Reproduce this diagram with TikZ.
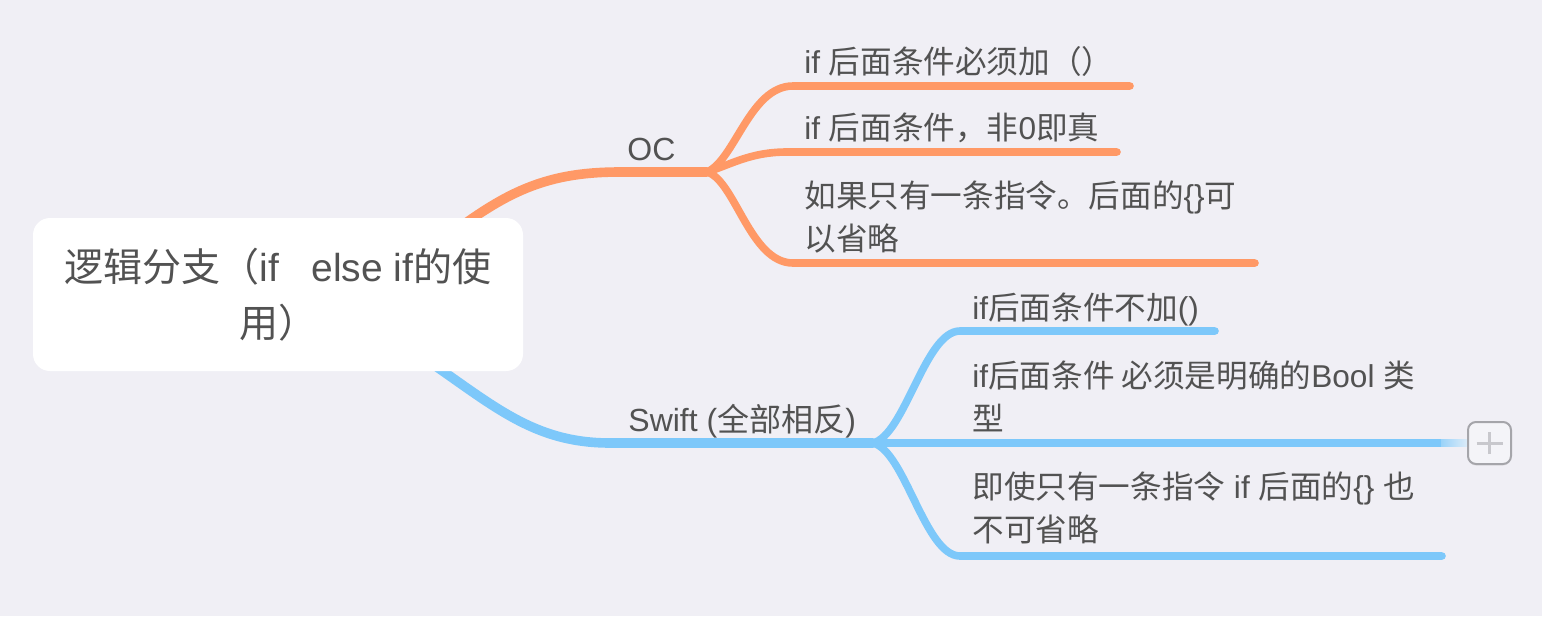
\documentclass[tikz,border=0pt]{standalone}
\usepackage{fontspec}
\setmainfont{Liberation Sans}
\newfontfamily\cjk{Noto Sans CJK SC}
\newcommand\zh[1]{{\cjk #1}}
\usetikzlibrary{shadows}
\definecolor{bg}{RGB}{240,239,245}
\definecolor{orng}{RGB}{255,153,102}
\definecolor{skyb}{RGB}{125,200,250}
\definecolor{skyfade}{RGB}{222,236,248}
\definecolor{txt}{RGB}{82,82,82}
\definecolor{plusborder}{RGB}{165,165,170}
\definecolor{plusfill}{RGB}{244,244,248}
\definecolor{pluscross}{RGB}{200,200,205}
\begin{document}
\begin{tikzpicture}[x=0.5pt,y=-0.5pt,
  leaf/.style={anchor=base west,inner sep=0pt,align=left,text=txt,font=\fontsize{15.8}{21.5}\selectfont},
  midtext/.style={anchor=base west,inner sep=0pt,text=txt,font=\fontsize{16}{20}\selectfont},
  rootbox/.style={rounded corners=8.5pt,fill=white,minimum width=245pt,minimum height=76.5pt,
    align=center,inner sep=0pt,text=txt,font=\fontsize{19.5}{28}\selectfont},
  obranch/.style={draw=orng,line width=4.8pt,line cap=round},
  oleaf/.style={draw=orng,line width=3.8pt,line cap=round},
  bbranch/.style={draw=skyb,line width=4.8pt,line cap=round},
  bleaf/.style={draw=skyb,line width=3.8pt,line cap=round},
  plusbtn/.style={draw=plusborder,line width=1pt,fill=plusfill,rounded corners=4pt,
    minimum width=21.5pt,minimum height=21pt,inner sep=0pt,
    drop shadow={opacity=0.12,shadow xshift=0pt,shadow yshift=-0.8pt}},
  pluscr/.style={draw=pluscross,line width=1.5pt}]
\useasboundingbox[fill=bg] (0,0) rectangle (1542,616);

% key points
\coordinate (rootO) at (430,250);
\coordinate (rootB) at (415,352);
\coordinate (ocS) at (707,172);
\coordinate (swS) at (873,443);
\coordinate (o1a) at (793,86);   \coordinate (o1b) at (1130,86);
\coordinate (o2a) at (787,152);  \coordinate (o2b) at (1117,152);
\coordinate (o3a) at (793,263);  \coordinate (o3b) at (1255,263);
\coordinate (s1a) at (960,331);  \coordinate (s1b) at (1215,331);
\coordinate (s2b) at (1441,443);
\coordinate (s3a) at (960,556);  \coordinate (s3b) at (1442,556);
\coordinate (plusW) at (1468,443);

% main branches
\draw[obranch] (rootO) .. controls (500,195) and (540,172) .. (620,172) -- (ocS);
\draw[bbranch] (rootB) .. controls (490,402) and (530,443) .. (610,443) -- (swS);

% OC leaves
\draw[oleaf] (ocS) .. controls (735,160) and (750,86) .. (o1a) -- (o1b);
\draw[oleaf] (ocS) .. controls (730,165) and (750,152) .. (o2a) -- (o2b);
\draw[oleaf] (ocS) .. controls (735,180) and (750,263) .. (o3a) -- (o3b);

% Swift leaves
\draw[bleaf] (swS) .. controls (905,435) and (925,331) .. (s1a) -- (s1b);
\draw[bleaf] (swS) -- (s2b);
\draw[bleaf] (swS) .. controls (905,451) and (925,556) .. (s3a) -- (s3b);

% root
\node[rootbox] (root) at (278,294.5) {\zh{逻辑分支（}if\ \ \ else if\zh{的使}\\\zh{用）}};

% branch labels
\node[midtext] (oc) at (627,160) {OC};
\node[midtext] (swift) at (628,431) {Swift (\zh{全部相反})};

% leaf texts (base = baseline of last line)
\node[leaf] (o1) at (804,73) {if \zh{后面条件必须加（）}};
\node[leaf] (o2) at (804,139) {if \zh{后面条件，非}0\zh{即真}};
\node[leaf] (o3) at (804,250) {\zh{如果只有一条指令。后面的}\{\}\zh{可}\\\zh{以省略}};
\node[leaf] (s1) at (972,319) {if\zh{后面条件不加}()};
\node[leaf] (s2) at (972,430) {if\zh{后面条件 必须是明确的}Bool \zh{类}\\\zh{型}};
\node[leaf] (s3) at (972,541) {\zh{即使只有一条指令} if \zh{后面的}\{\} \zh{也}\\\zh{不可省略}};

% collapse button
\shade[left color=skyb!70!skyfade,right color=skyfade] (s2b) ++(0,-3.5) rectangle ([yshift=-1.75pt]plusW);
\node[plusbtn] (plus) at (1489.5,443) {};
\draw[pluscr] ([xshift=-6.5pt]plus.center) -- ([xshift=6.5pt]plus.center);
\draw[pluscr] ([yshift=-5.5pt]plus.center) -- ([yshift=5.5pt]plus.center);
\end{tikzpicture}
\end{document}
